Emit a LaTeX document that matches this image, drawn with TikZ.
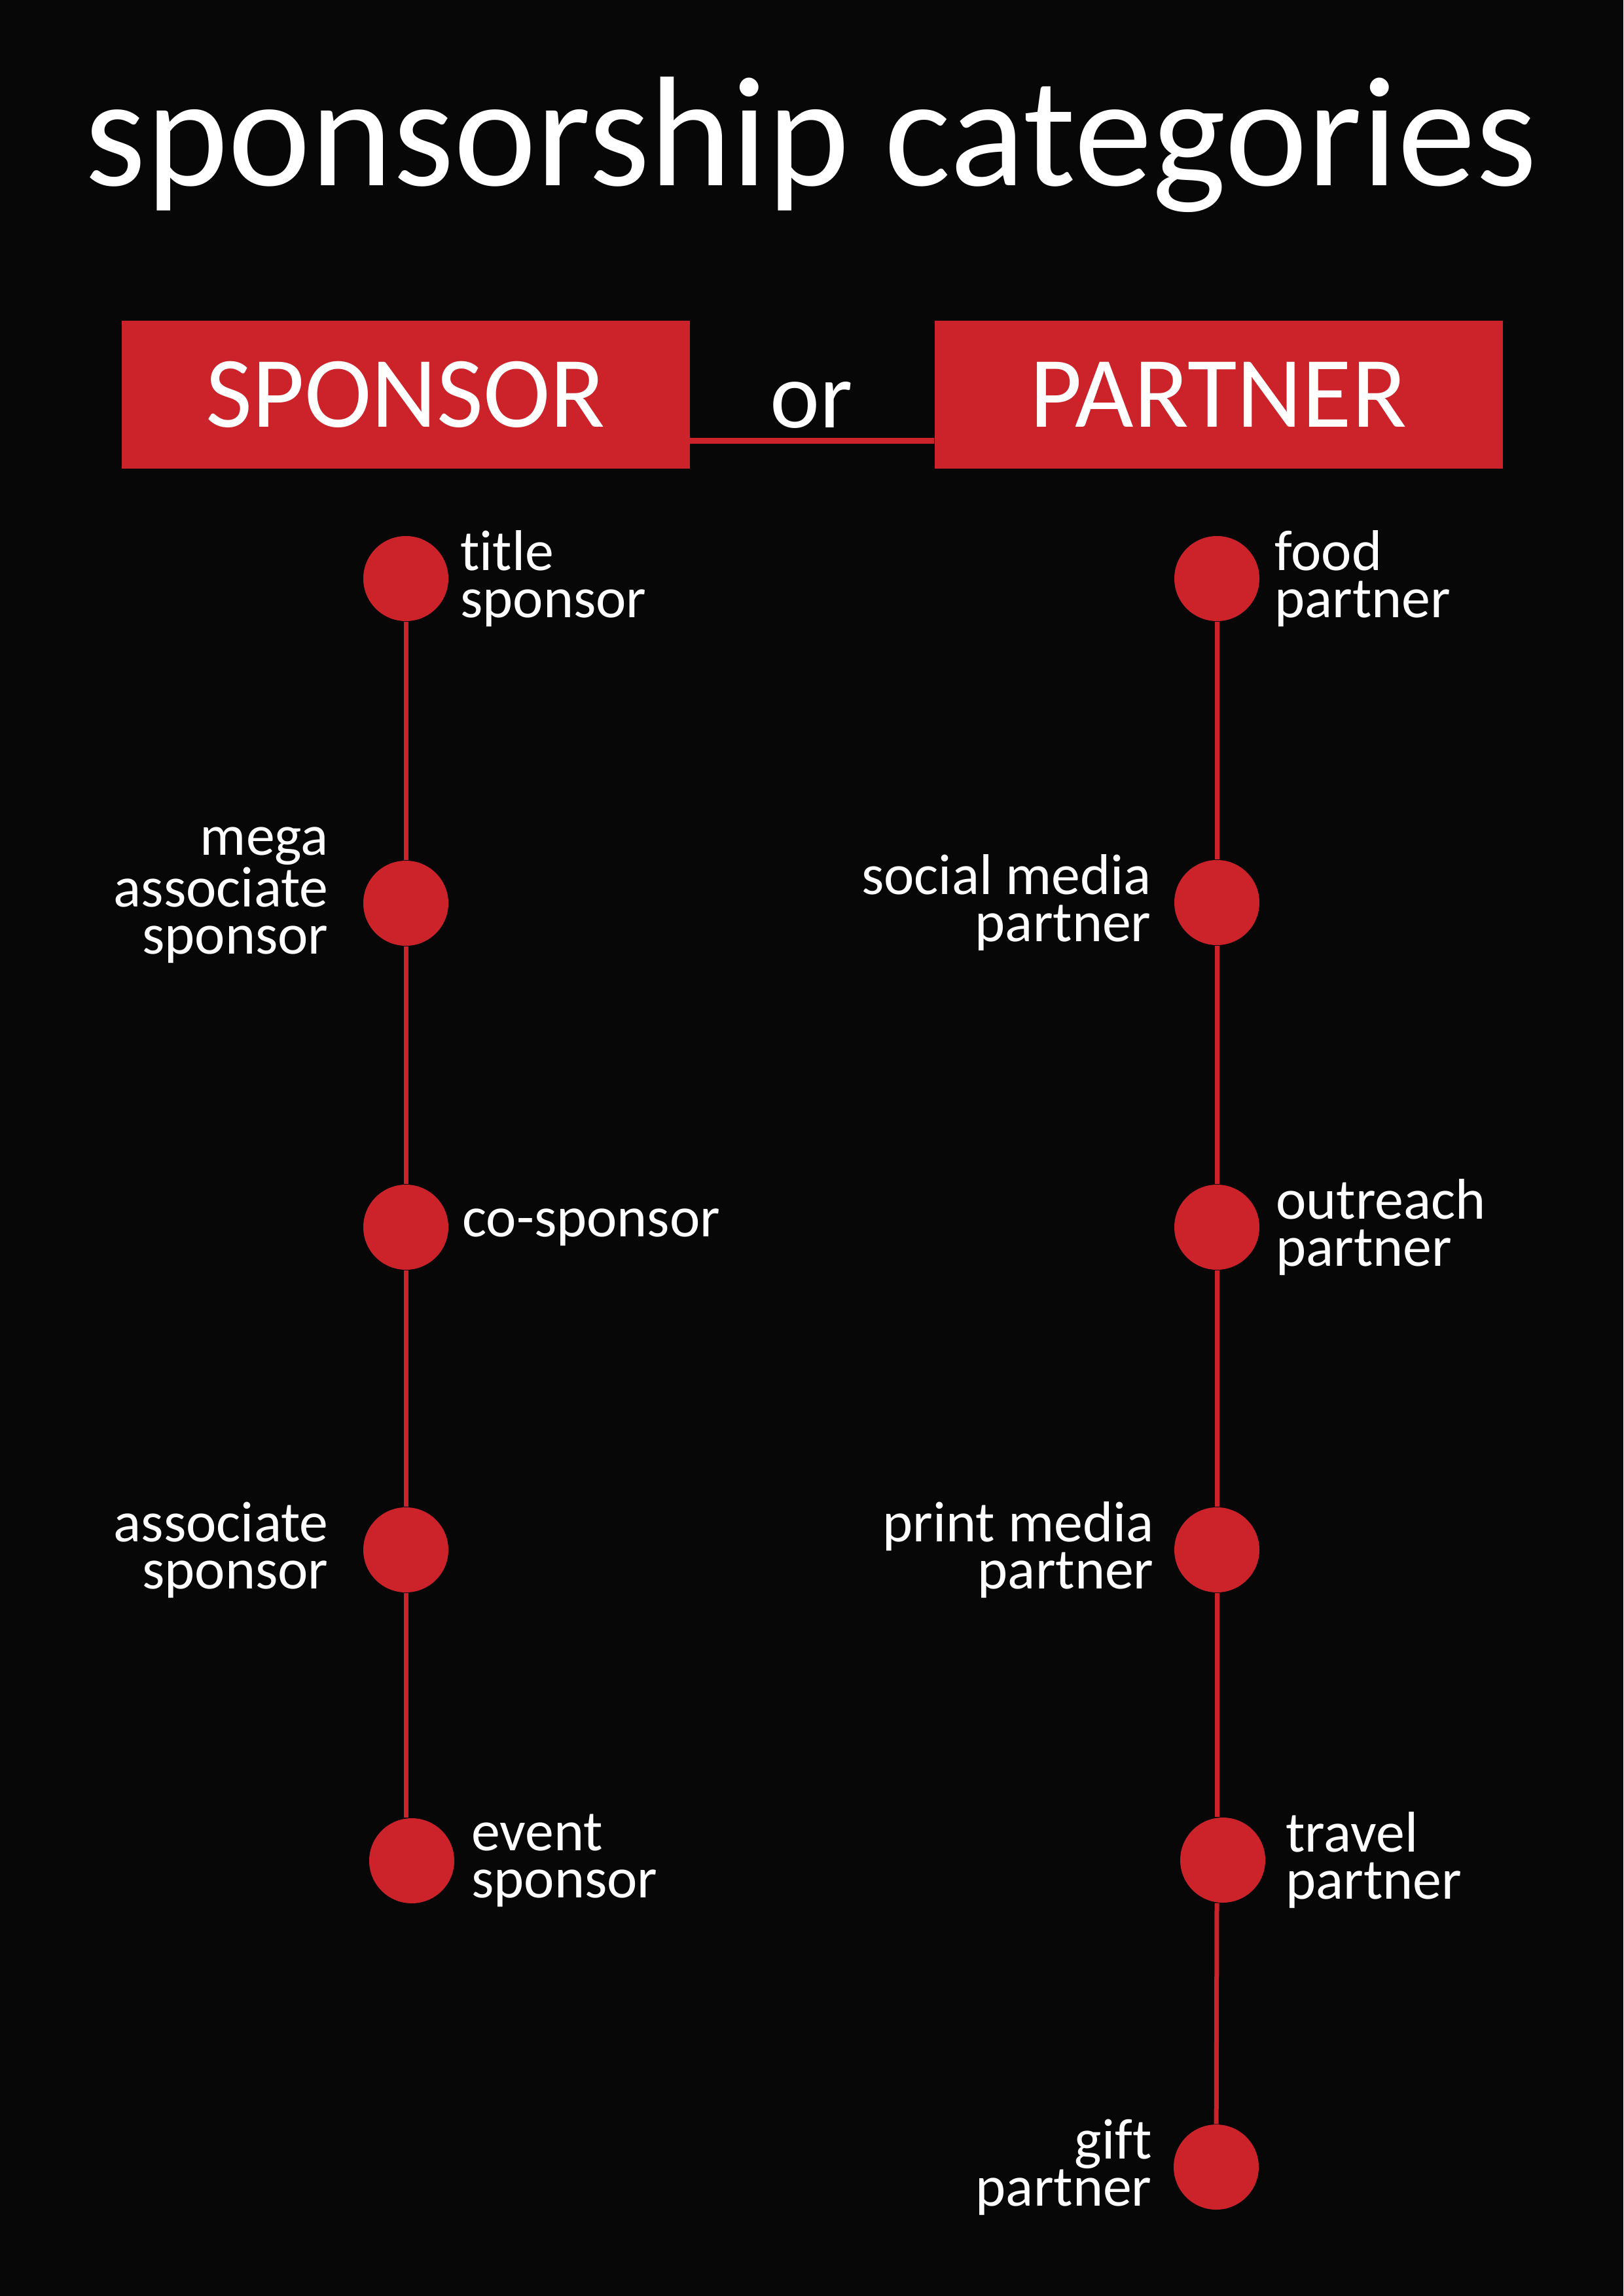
\documentclass[tikz,border=0pt]{standalone}
\usepackage{fontspec}
\setmainfont{Carlito}[Ligatures=NoCommon]
\usetikzlibrary{positioning,calc}
\definecolor{bg}{HTML}{070707}
\definecolor{brand}{HTML}{CC2229}
\tikzset{
  title/.style={text=white, font=\fontsize{68}{80}\selectfont, inner sep=0pt},
  head/.style={fill=brand, text=white, font=\fontsize{44}{52}\selectfont,
    minimum width=8.68cm, minimum height=2.26cm, inner sep=0pt},
  dot/.style={circle, fill=brand, minimum size=1.3cm, inner sep=0pt},
  rail/.style={brand, line width=0.7mm},
  bar/.style={brand, line width=0.9mm},
  tag/.style={text=white, font=\fontsize{25}{20.5}\selectfont, inner sep=0pt},
  tagl/.style={tag, align=right},
  tagr/.style={tag, align=left},
}
\begin{document}
\begin{tikzpicture}

\fill[bg] (0,0) rectangle (24.8,-35.08);
\useasboundingbox (0,0) rectangle (24.8,-35.08);

\node[title, anchor=base] (ttl) at (12.39,-2.84) {sponsorship categories};

\node[head] (sp) at (6.195,-6.03) {SPONSOR};
\node[head] (pt) at (18.615,-6.03) {PARTNER};
\draw[bar] ([yshift=-7mm]sp.east) -- ([yshift=-7mm]pt.west);
\node[text=white, font=\fontsize{41}{48}\selectfont, inner sep=0pt, anchor=base]
  (or) at (12.40,-6.54) {or};

% sponsor column
\node[dot] (l1) at (6.20,-8.84) {};
\node[dot] (l2) at (6.20,-13.80) {};
\node[dot] (l3) at (6.20,-18.75) {};
\node[dot] (l4) at (6.20,-23.68) {};
\node[dot] (l5) at (6.29,-28.43) {};
\draw[rail] (l1) -- (l2);
\draw[rail] (l2) -- (l3);
\draw[rail] (l3) -- (l4);
\draw[rail] (l4) -- (l4 |- l5.north);

\node[tagr, right=1.7mm of l1] (t1) {title\\sponsor};
\node[tagl, left=5.2mm of l2, yshift=1.2mm] (t2) {mega\\associate\\sponsor};
\node[tagr, right=2mm of l3] (t3) {co-sponsor};
\node[tagl, left=5.2mm of l4] (t4) {associate\\sponsor};
\node[tagr, right=2.5mm of l5] (t5) {event\\sponsor};

% partner column
\node[dot] (r1) at (18.59,-8.84) {};
\node[dot] (r2) at (18.59,-13.79) {};
\node[dot] (r3) at (18.59,-18.75) {};
\node[dot] (r4) at (18.59,-23.68) {};
\node[dot] (r5) at (18.68,-28.42) {};
\node[dot] (r6) at (18.58,-33.11) {};
\draw[rail] (r1) -- (r2);
\draw[rail] (r2) -- (r3);
\draw[rail] (r3) -- (r4);
\draw[rail] (r4) -- (r4 |- r5.north);
\draw[rail] (r5.south -| r4) -- (r6);

\node[tagr, right=2.2mm of r1] (p1) {food\\partner};
\node[tagl, left=3.4mm of r2] (p2) {social media\\partner};
\node[tagr, right=2.4mm of r3] (p3) {outreach\\partner};
\node[tagl, left=3mm of r4] (p4) {print media\\partner};
\node[tagr, right=3mm of r5] (p5) {travel\\partner};
\node[tagl, left=3.2mm of r6] (p6) {gift\\partner};

\end{tikzpicture}
\end{document}
